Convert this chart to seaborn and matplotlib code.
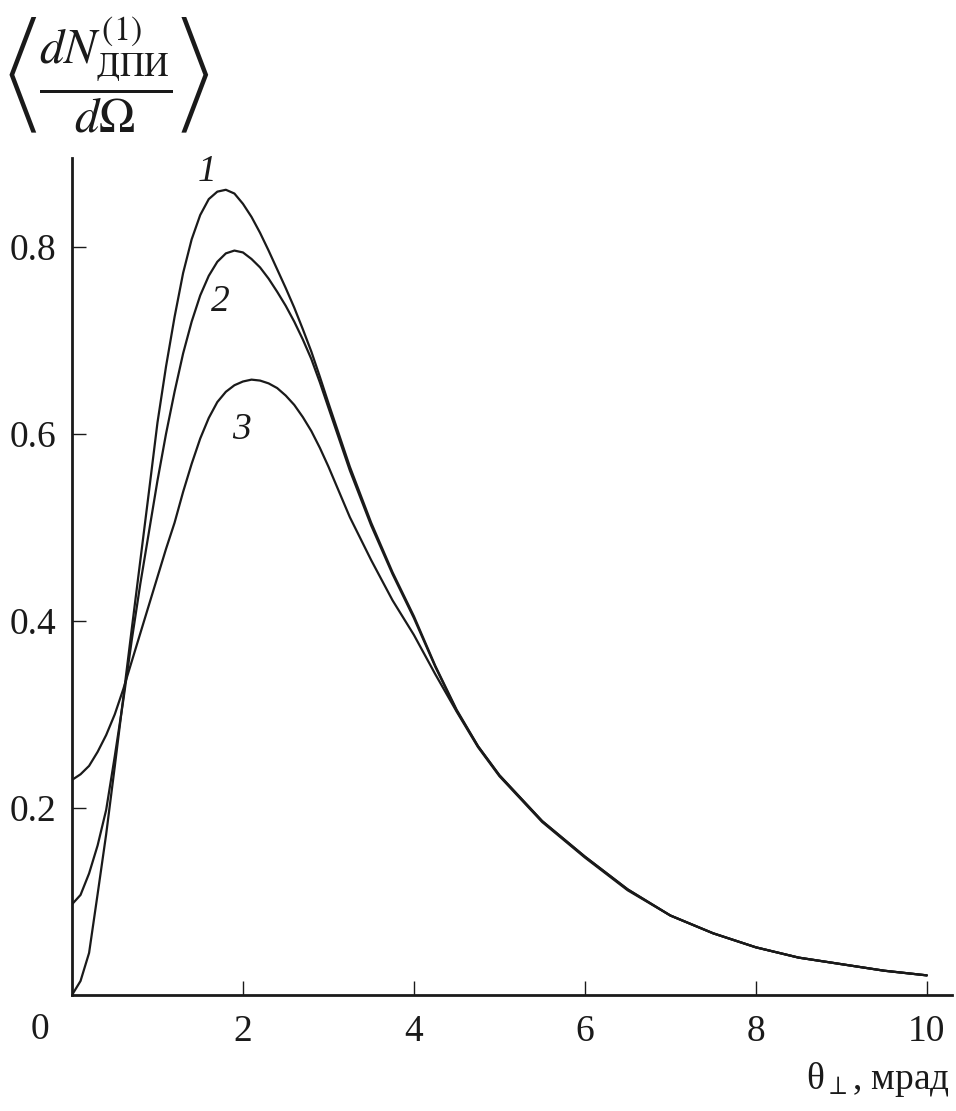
import numpy as np
import pandas as pd
import seaborn as sns
import matplotlib.pyplot as plt

# theta_perp grid, mrad
theta = [0.0, 0.1, 0.2, 0.3, 0.4, 0.5, 0.6, 0.7, 0.8, 0.9,
         1.0, 1.1, 1.2, 1.3, 1.4, 1.5, 1.6, 1.7, 1.8, 1.9,
         2.0, 2.1, 2.2, 2.3, 2.4, 2.5, 2.6, 2.7, 2.8, 2.9,
         3.0, 3.25, 3.5, 3.75, 4.0, 4.25, 4.5, 4.75, 5.0, 5.5,
         6.0, 6.5, 7.0, 7.5, 8.0, 8.5, 9.0, 9.5, 10.0]

curve1 = [0.000, 0.015, 0.045, 0.108, 0.172, 0.244, 0.318, 0.392, 0.465, 0.538,
          0.612, 0.672, 0.725, 0.772, 0.808, 0.834, 0.851, 0.859, 0.861, 0.857,
          0.846, 0.832, 0.815, 0.796, 0.776, 0.756, 0.735, 0.712, 0.688, 0.661,
          0.633, 0.565, 0.505, 0.452, 0.405, 0.352, 0.305, 0.266, 0.235, 0.186,
          0.148, 0.113, 0.085, 0.066, 0.051, 0.040, 0.033, 0.026, 0.021]
curve2 = [0.097, 0.107, 0.130, 0.160, 0.198, 0.255, 0.315, 0.380, 0.440, 0.495,
          0.550, 0.600, 0.645, 0.686, 0.720, 0.748, 0.769, 0.784, 0.793, 0.796,
          0.794, 0.787, 0.778, 0.766, 0.752, 0.737, 0.720, 0.701, 0.680, 0.655,
          0.628, 0.561, 0.502, 0.450, 0.403, 0.351, 0.304, 0.266, 0.235, 0.186,
          0.148, 0.113, 0.085, 0.066, 0.051, 0.040, 0.033, 0.026, 0.021]
curve3 = [0.230, 0.236, 0.245, 0.260, 0.278, 0.300, 0.327, 0.357, 0.387, 0.417,
          0.447, 0.477, 0.505, 0.538, 0.568, 0.595, 0.617, 0.634, 0.645, 0.652,
          0.656, 0.658, 0.657, 0.654, 0.649, 0.641, 0.631, 0.618, 0.603, 0.585,
          0.565, 0.511, 0.465, 0.422, 0.385, 0.343, 0.303, 0.265, 0.234, 0.185,
          0.147, 0.112, 0.085, 0.066, 0.051, 0.040, 0.033, 0.026, 0.021]

curve_names = ['1', '2', '3']
label_pos = [(1.58, 0.88), (1.73, 0.741), (1.98, 0.604)]

sns.set_style('ticks')
plt.rcParams['font.family'] = ['Liberation Serif', 'DejaVu Serif']
plt.rcParams['mathtext.fontset'] = 'stix'

fig = plt.figure(figsize=(9.56, 11.11), dpi=100)
ax = fig.add_axes([0.0753, 0.1044, 0.921, 0.7534])

for ys in [curve1, curve2, curve3]:
    sns.lineplot(x=theta, y=ys, color='#1a1a1a', linewidth=1.6, ax=ax)

for name, (lx, ly) in zip(curve_names, label_pos):
    ax.text(lx, ly, name, fontsize=27, style='italic', ha='center', va='center', color='#1a1a1a')

ax.set_xlim(0, 10.3)
ax.set_ylim(0, 0.895)
ax.set_xticks([2, 4, 6, 8, 10])
ax.set_xticklabels(['2', '4', '6', '8', '10'])
ax.set_yticks([0.2, 0.4, 0.6, 0.8])
ax.set_yticklabels(['0.2', '0.4', '0.6', '0.8'])
ax.tick_params(direction='in', length=10, width=1.0, labelsize=27, pad=11, colors='#1a1a1a')
ax.tick_params(axis='x', pad=14)
sns.despine(ax=ax)
for s in ['left', 'bottom']:
    ax.spines[s].set_linewidth(2.0)
    ax.spines[s].set_color('#1a1a1a')

ax.annotate('0', xy=(0, 0), xytext=(-32, -35), textcoords='offset pixels',
            fontsize=27, ha='center', va='center', color='#1a1a1a')

fig.text(0.994, 0.028, 'θ$_\\perp$, мрад', fontsize=27, ha='right', va='center', color='#1a1a1a')
fig.text(0.004, 0.932, r'$\left\langle\dfrac{dN^{(1)}_{\mathrm{ДПИ}}}{d\Omega}\right\rangle$',
         fontsize=35, ha='left', va='center', color='#1a1a1a')

fig.savefig('out.png', dpi=100)
